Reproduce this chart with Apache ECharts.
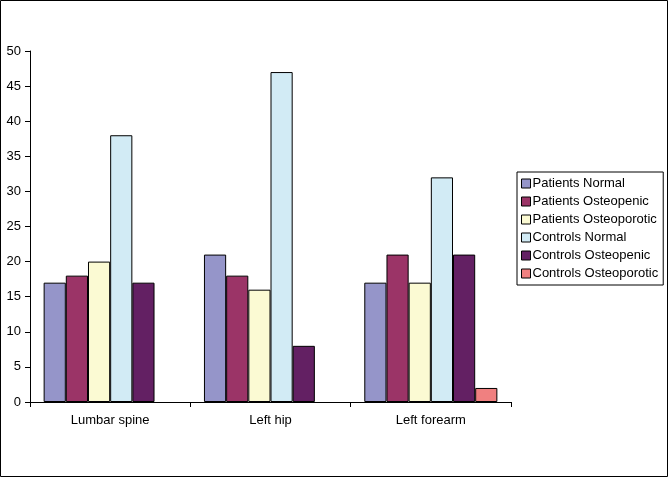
<!DOCTYPE html>
<html><head><meta charset="utf-8">
<script src="https://cdn.jsdelivr.net/npm/echarts@6/dist/echarts.min.js"></script>
<style>html,body{margin:0;padding:0;background:#fff}#c{width:668px;height:477px}</style>
</head><body><div id="c"></div>
<script>
const categories = ['Lumbar spine', 'Left hip', 'Left forearm'];
const seriesNames = ['Patients Normal', 'Patients Osteopenic', 'Patients Osteoporotic', 'Controls Normal', 'Controls Osteopenic', 'Controls Osteoporotic'];
const patientsNormal = [17, 21, 17];
const patientsOsteopenic = [18, 18, 21];
const patientsOsteoporotic = [20, 16, 17];
const controlsNormal = [38, 47, 32];
const controlsOsteopenic = [17, 8, 21];
const controlsOsteoporotic = [null, null, 2];
const colors = ['#9595c9', '#9b3467', '#fbfad3', '#d2ebf5', '#632063', '#f08080'];
const values = [patientsNormal, patientsOsteopenic, patientsOsteoporotic, controlsNormal, controlsOsteopenic, controlsOsteoporotic];

const chart = echarts.init(document.getElementById('c'));
const font = 'Liberation Sans, Arial, sans-serif';
chart.setOption({
  animation: false,
  color: colors,
  textStyle: { fontFamily: font },
  graphic: [{ type: 'rect', shape: { x: 0.5, y: 0.5, width: 667, height: 476 }, style: { fill: 'none', stroke: '#000', lineWidth: 1 } }],
  grid: { left: 30, right: 157, top: 51, bottom: 75 },
  legend: {
    orient: 'vertical', left: 517, top: 172, data: seriesNames,
    borderColor: '#000', borderWidth: 1, padding: [5, 5, 5, 4],
    itemWidth: 9, itemHeight: 9, itemGap: 5, icon: 'rect',
    itemStyle: { borderColor: '#000', borderWidth: 1 },
    textStyle: { fontSize: 13, color: '#000', fontFamily: font, padding: [0, 0, 0, -3] }
  },
  xAxis: {
    type: 'category', data: categories,
    axisLine: { lineStyle: { color: '#000' } },
    axisTick: { show: true, length: 5, lineStyle: { color: '#000' } },
    axisLabel: { color: '#000', fontSize: 13, margin: 12, fontFamily: font }
  },
  yAxis: {
    type: 'value', min: 0, max: 50, interval: 5,
    axisLine: { show: true, lineStyle: { color: '#000' } },
    axisTick: { show: true, length: 5, lineStyle: { color: '#000' } },
    splitLine: { show: false },
    axisLabel: { color: '#000', fontSize: 13, margin: 9, fontFamily: font }
  },
  series: seriesNames.map((n, i) => ({
    name: n, type: 'bar', data: values[i],
    barGap: '0%', barCategoryGap: '17%',
    itemStyle: { color: colors[i], borderColor: '#000', borderWidth: 1 }
  }))
});
</script></body></html>
